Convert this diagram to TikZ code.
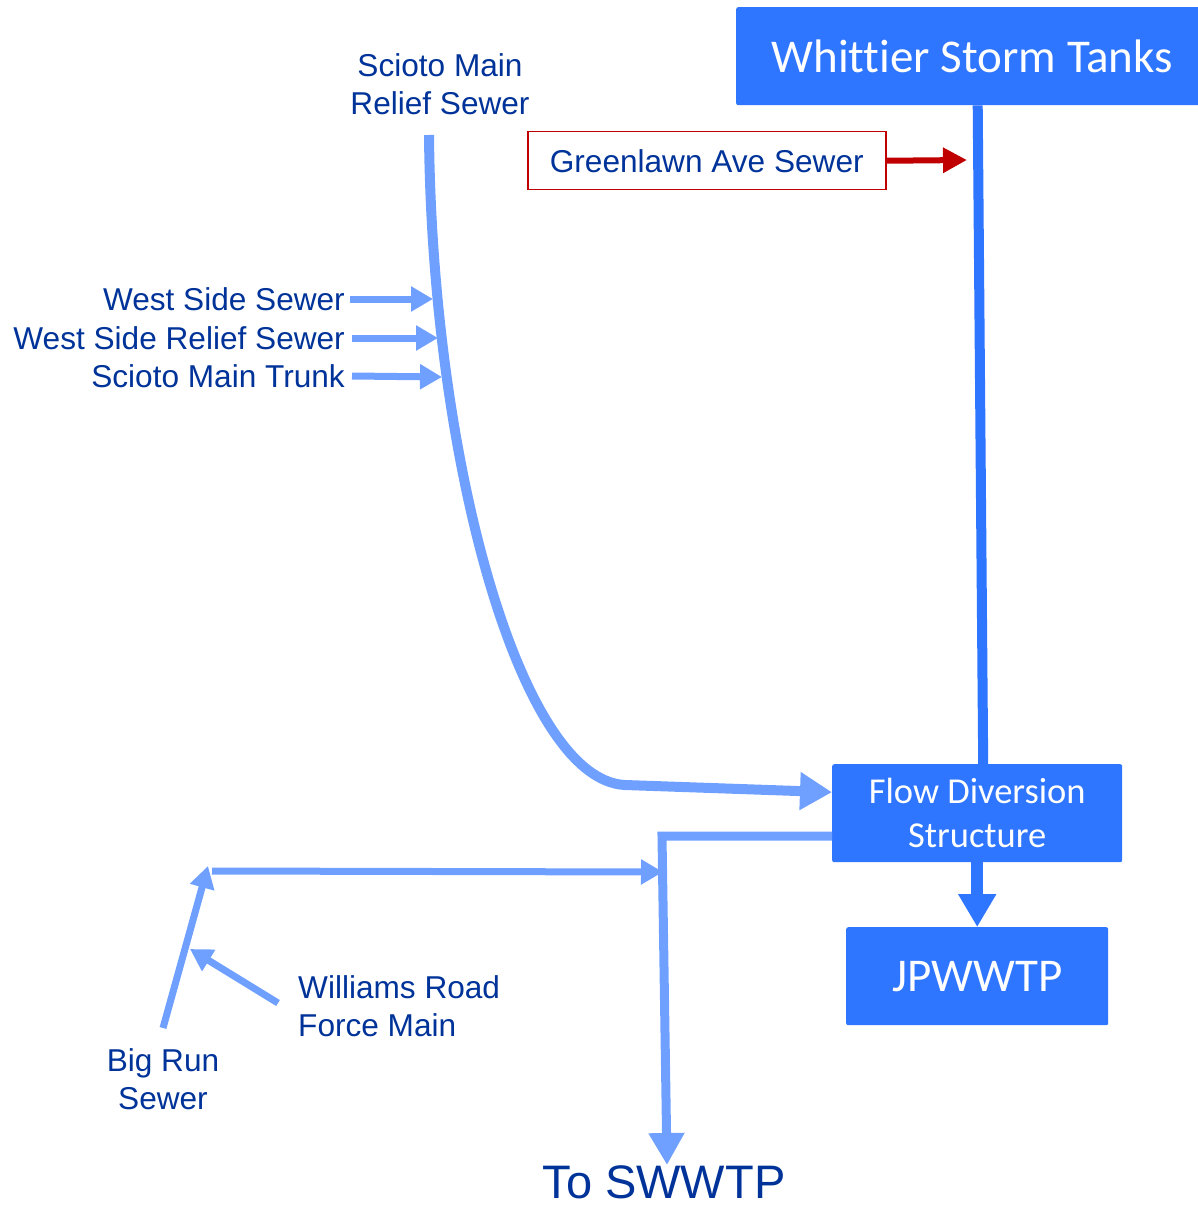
\documentclass[tikz,border=0pt]{standalone}
\usepackage{fontspec}
\setmainfont{Liberation Sans}
\newfontfamily\boxfont[Ligatures=NoCommon]{Carlito}
\usetikzlibrary{arrows.meta,calc}
\definecolor{boxblue}{RGB}{46,117,255}
\definecolor{pipeblue}{RGB}{112,160,255}
\definecolor{textblue}{RGB}{0,51,153}
\definecolor{redline}{RGB}{192,0,0}
\begin{document}
\begin{tikzpicture}[x=1pt,y=-1pt,
  plant/.style={fill=boxblue,draw=none,rounded corners=2pt,text=white,
    font=\boxfont\fontsize{47}{52}\selectfont,anchor=north west,inner sep=0pt},
  lbl/.style={text=textblue,font=\fontsize{31.6}{38}\selectfont,inner sep=0pt,align=center},
  pipe/.style={draw=pipeblue,line width=7pt},
  bigpipe/.style={draw=pipeblue,line width=10pt},
  smallhead/.style={-{Triangle[length=22pt,width=24pt]}},
]
\useasboundingbox (0,0) rectangle (1197,1206);

% treatment and storage boxes
\node[plant,minimum width=472pt,minimum height=98pt] (wst) at (736,7) {Whittier Storm Tanks};
\node[plant,minimum width=290pt,minimum height=98pt,align=center,
  font=\boxfont\fontsize{36.5}{44}\selectfont] (fds) at (832,764) {Flow Diversion\\Structure};
\node[plant,minimum width=262pt,minimum height=98pt] (jp) at (846,927) {JPWWTP};
\node[draw=redline,line width=1.5pt,anchor=north west,minimum width=358pt,minimum height=58pt,
  text=textblue,font=\fontsize{31.6}{38}\selectfont,inner sep=0pt] (gl) at (527,131) {Greenlawn Ave Sewer};

% labels
\node[lbl] (smrs) at (440,84) {Scioto Main\\Relief Sewer};
\node[lbl,anchor=east] (wss) at (345,299) {West Side Sewer};
\node[lbl,anchor=east] (wsrs) at (345,338) {West Side Relief Sewer};
\node[lbl,anchor=east] (smt) at (345,376) {Scioto Main Trunk};
\node[lbl,anchor=west,align=left] (wrfm) at (298,1006) {Williams Road\\Force Main};
\node[lbl] (brs) at (163,1079) {Big Run\\Sewer};
\node[lbl,font=\fontsize{47}{52}\selectfont] (sw) at (664,1182) {To SWWTP};

% free ends of pipes
\coordinate (smrstop) at (429,135);
\coordinate (bend) at (625,785);
\coordinate (wsstip) at (433,299);
\coordinate (wsrstip) at (438,338);
\coordinate (smttip) at (442,377);
\coordinate (gltip) at (967,160);
\coordinate (corner) at (662,836);
\coordinate (swtip) at (667,1165);
\coordinate (brbot) at (163,1028);
\coordinate (brtop) at (208,866);
\coordinate (hstart) at (212,871);
\coordinate (htip) at (663,872);
\coordinate (wrstart) at (278,1003);
\coordinate (wrtip) at (190,949);

% Whittier line down to the diversion structure
\draw[draw=boxblue,line width=10pt] ([xshift=5.5pt]wst.south) -- ([xshift=6pt]fds.north);
% Greenlawn inflow
\draw[draw=redline,line width=6pt,-{Triangle[length=24pt,width=24pt]}] (gl.east) -- (gltip);

% Scioto Main Relief Sewer
\draw[bigpipe,-{Triangle[length=32pt,width=36pt]}]
  (smrstop) .. controls (432,460) and (520,780) .. (bend) -- ([yshift=21pt]fds.west);
\draw[pipe,smallhead] (wss.east) ++(5,0) -- (wsstip);
\draw[pipe,smallhead] (wsrs.east) ++(7,0) -- (wsrstip);
\draw[pipe,smallhead] (smt.east) ++(7,0) -- (smttip);

% diversion structure outputs
\draw[draw=boxblue,line width=12pt,-{Triangle[length=33pt,width=36pt]}] (fds.south) -- (jp.north);
\draw[pipe,line width=9pt,-{Triangle[length=32pt,width=34pt]}]
  ([yshift=-23pt]fds.west) -- (corner) -- (swtip);

% Big Run and Williams Road
\draw[pipe,smallhead] (brbot) -- (brtop);
\draw[pipe,smallhead] (hstart) -- (htip);
\draw[pipe,smallhead] (wrstart) -- (wrtip);
\end{tikzpicture}
\end{document}
